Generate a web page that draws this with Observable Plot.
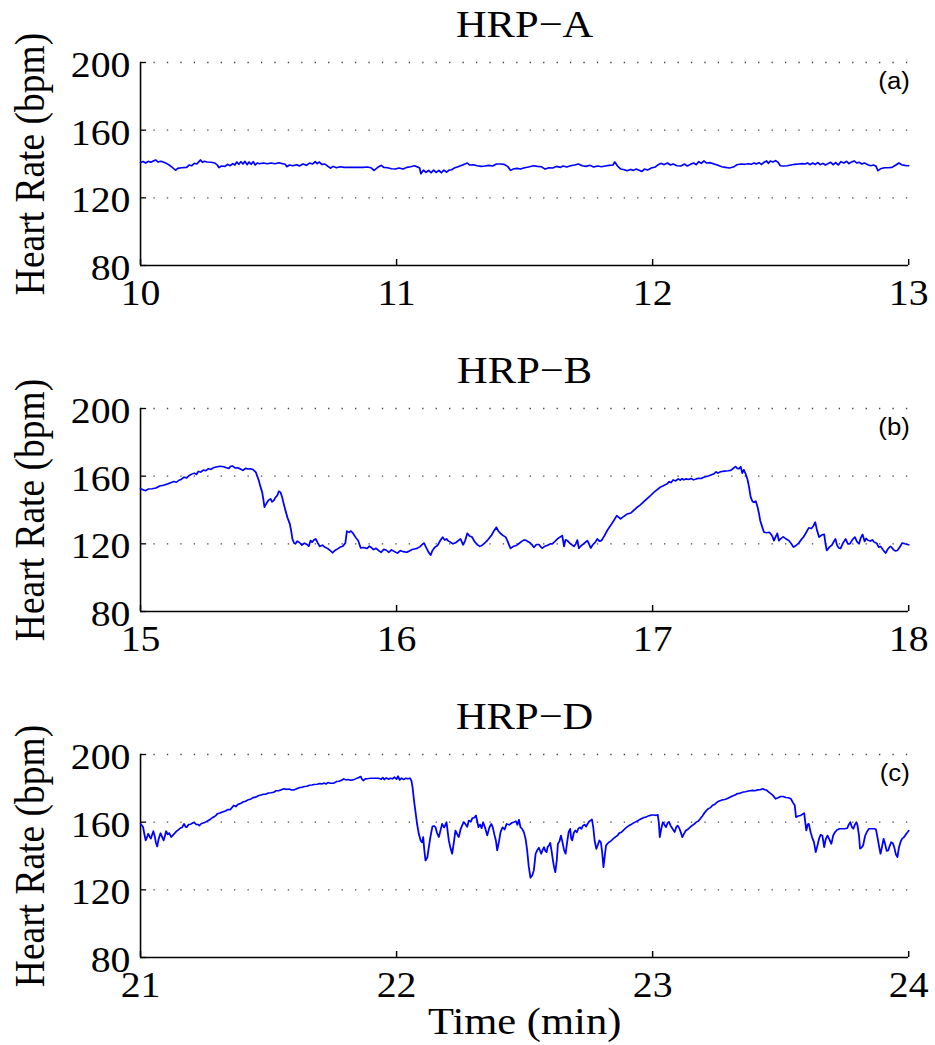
<!DOCTYPE html>
<html><head><meta charset="utf-8">
<script src="https://cdn.jsdelivr.net/npm/d3@7"></script>
<script src="https://cdn.jsdelivr.net/npm/@observablehq/plot@0.6"></script>
<style>body{margin:0;background:#fff;} #chart svg{display:block;}</style>
</head><body><div id="chart"></div>
<script>
// ---- data ----
const yTicks = [80, 120, 160, 200];
const gridY = [120, 160, 200];
const titles = ["HRP−A", "HRP−B", "HRP−D"];
const tags = ["(a)", "(b)", "(c)"];
const yLabel = "Heart Rate (bpm)";
const xLabel = "Time (min)";
const xTicksA = [10, 11, 12, 13];
const xTicksB = [15, 16, 17, 18];
const xTicksC = [21, 22, 23, 24];

const tA = [10.000,10.010,10.020,10.030,10.040,10.050,10.059,10.068,10.080,10.091,10.100,10.110,10.120,10.130,10.137,10.145,10.160,10.180,10.190,10.200,10.210,10.220,10.234,10.242,10.250,10.260,10.275,10.290,10.300,10.306,10.315,10.330,10.340,10.350,10.360,10.368,10.376,10.384,10.392,10.400,10.408,10.416,10.424,10.432,10.440,10.448,10.456,10.465,10.480,10.495,10.510,10.525,10.540,10.555,10.565,10.572,10.582,10.595,10.610,10.620,10.635,10.648,10.660,10.672,10.682,10.690,10.698,10.708,10.720,10.732,10.742,10.752,10.765,10.780,10.795,10.820,10.845,10.870,10.885,10.900,10.912,10.920,10.930,10.940,10.950,10.965,10.980,10.995,11.010,11.025,11.040,11.055,11.070,11.080,11.090,11.095,11.105,11.115,11.125,11.135,11.145,11.155,11.165,11.175,11.185,11.195,11.205,11.215,11.225,11.240,11.255,11.265,11.276,11.285,11.300,11.315,11.330,11.345,11.360,11.375,11.390,11.405,11.420,11.435,11.445,11.455,11.470,11.484,11.500,11.515,11.535,11.550,11.565,11.580,11.595,11.610,11.625,11.640,11.650,11.665,11.680,11.695,11.710,11.725,11.740,11.755,11.770,11.785,11.800,11.815,11.830,11.845,11.852,11.862,11.875,11.890,11.900,11.915,11.925,11.935,11.945,11.958,11.968,11.980,11.995,12.010,12.020,12.032,12.045,12.058,12.070,12.080,12.095,12.110,12.125,12.135,12.148,12.160,12.170,12.180,12.190,12.200,12.210,12.225,12.240,12.255,12.270,12.285,12.300,12.315,12.330,12.345,12.360,12.375,12.385,12.396,12.405,12.415,12.425,12.435,12.445,12.452,12.460,12.470,12.480,12.490,12.498,12.510,12.526,12.540,12.555,12.570,12.585,12.595,12.605,12.615,12.625,12.635,12.645,12.655,12.665,12.675,12.685,12.695,12.705,12.715,12.725,12.735,12.747,12.757,12.767,12.777,12.787,12.797,12.807,12.817,12.827,12.840,12.852,12.862,12.872,12.880,12.890,12.905,12.920,12.935,12.950,12.962,12.972,12.985,12.995,13.000];
const hrA = [140.8,141.5,140.6,141.6,141.0,141.8,142.4,141.2,141.6,141.0,140.4,139.6,138.5,137.2,136.3,137.4,137.8,138.0,139.4,139.0,140.4,140.0,142.4,141.0,141.6,141.2,141.0,140.6,139.4,137.8,138.8,138.6,139.8,139.0,140.2,139.4,141.2,139.8,141.4,140.0,141.6,139.6,141.2,139.8,141.4,139.4,140.6,140.2,140.6,140.2,140.6,140.2,140.8,140.2,139.8,138.4,139.4,139.0,139.6,138.8,140.0,139.2,140.6,140.0,141.4,140.2,141.2,139.8,140.0,138.6,137.6,138.6,137.8,138.4,138.0,138.0,138.0,138.0,138.2,137.8,136.2,137.2,138.4,139.2,138.0,137.8,137.2,137.0,137.6,137.0,138.0,138.4,139.0,138.4,137.6,134.2,136.4,135.0,136.2,134.8,136.4,135.0,136.2,134.8,136.4,135.2,136.4,136.6,137.6,138.4,139.2,139.8,140.6,139.4,139.6,139.0,138.6,138.8,139.2,138.8,140.0,140.0,139.8,138.4,136.2,137.0,137.4,137.0,137.8,138.2,139.0,138.6,138.4,137.0,137.8,137.6,138.6,138.0,138.8,138.2,139.0,139.4,140.0,139.0,138.6,139.2,138.2,138.8,138.4,138.8,139.2,139.4,141.2,139.0,137.0,136.6,136.0,136.8,136.2,137.0,136.4,135.6,137.0,136.4,137.6,138.2,139.4,140.4,139.6,140.6,139.4,140.0,139.0,138.8,140.0,138.8,139.8,140.6,139.6,141.4,140.4,141.8,140.6,140.8,140.0,139.2,138.4,138.0,137.6,138.2,139.6,140.0,139.8,140.2,139.8,140.6,140.0,140.8,139.8,141.0,141.8,140.4,141.8,141.2,142.0,141.0,139.0,138.8,139.0,139.4,139.8,140.0,140.2,140.0,140.6,139.6,140.6,139.8,140.8,139.6,140.4,139.4,140.2,141.0,139.6,140.8,139.4,141.4,140.6,141.6,140.2,141.2,141.8,140.6,141.0,140.0,140.6,139.6,139.0,139.4,138.8,136.0,137.2,137.8,137.8,138.0,139.4,140.6,139.6,139.2,139.0,139.0];

const tB = [15.000,15.010,15.020,15.030,15.045,15.060,15.075,15.090,15.105,15.120,15.130,15.140,15.150,15.160,15.170,15.180,15.190,15.200,15.210,15.218,15.226,15.235,15.245,15.255,15.265,15.275,15.285,15.295,15.310,15.325,15.335,15.345,15.352,15.360,15.370,15.380,15.390,15.400,15.410,15.420,15.430,15.440,15.450,15.456,15.462,15.468,15.475,15.480,15.484,15.492,15.500,15.508,15.514,15.520,15.527,15.534,15.540,15.547,15.553,15.560,15.566,15.574,15.583,15.588,15.593,15.600,15.605,15.612,15.618,15.625,15.630,15.640,15.650,15.657,15.664,15.670,15.678,15.684,15.692,15.700,15.710,15.720,15.730,15.740,15.750,15.760,15.770,15.780,15.790,15.800,15.806,15.815,15.822,15.830,15.840,15.850,15.860,15.870,15.885,15.893,15.900,15.910,15.920,15.930,15.940,15.950,15.960,15.970,15.980,15.992,16.003,16.015,16.025,16.040,16.050,16.060,16.070,16.080,16.092,16.100,16.107,16.115,16.125,16.133,16.140,16.150,16.160,16.170,16.180,16.188,16.195,16.200,16.210,16.220,16.230,16.240,16.250,16.260,16.268,16.276,16.285,16.295,16.305,16.315,16.325,16.333,16.345,16.354,16.362,16.370,16.380,16.390,16.398,16.406,16.415,16.426,16.435,16.445,16.455,16.470,16.480,16.490,16.497,16.504,16.512,16.520,16.528,16.536,16.546,16.556,16.563,16.569,16.580,16.590,16.600,16.608,16.618,16.628,16.638,16.647,16.654,16.660,16.667,16.675,16.685,16.693,16.700,16.706,16.712,16.720,16.730,16.745,16.752,16.758,16.766,16.776,16.784,16.792,16.800,16.812,16.823,16.832,16.840,16.850,16.860,16.868,16.875,16.885,16.900,16.915,16.925,16.940,16.950,16.962,16.973,16.985,16.995,17.005,17.018,17.030,17.040,17.050,17.057,17.065,17.072,17.080,17.090,17.100,17.108,17.115,17.122,17.130,17.140,17.150,17.160,17.170,17.180,17.190,17.200,17.210,17.220,17.230,17.240,17.248,17.255,17.265,17.280,17.295,17.305,17.315,17.324,17.330,17.337,17.344,17.350,17.356,17.363,17.370,17.376,17.383,17.390,17.396,17.403,17.410,17.416,17.420,17.428,17.435,17.445,17.455,17.460,17.467,17.474,17.480,17.487,17.493,17.500,17.510,17.520,17.532,17.540,17.550,17.560,17.571,17.580,17.590,17.600,17.610,17.620,17.628,17.635,17.642,17.650,17.660,17.670,17.675,17.680,17.690,17.700,17.708,17.714,17.720,17.727,17.734,17.744,17.754,17.762,17.770,17.780,17.790,17.798,17.806,17.813,17.820,17.828,17.834,17.840,17.850,17.858,17.865,17.875,17.883,17.890,17.900,17.910,17.918,17.925,17.930,17.940,17.948,17.956,17.965,17.975,17.985,17.995,18.000];
const hrB = [152.5,152.0,151.4,152.4,152.6,153.0,154.2,154.6,155.4,156.2,156.8,156.4,157.6,158.2,159.4,159.0,160.4,161.2,161.8,161.0,162.8,162.4,163.6,163.2,164.4,164.0,165.0,165.4,165.9,165.6,165.0,164.6,165.8,166.0,164.8,165.0,164.2,163.4,164.6,164.2,164.4,163.8,162.4,160.0,157.4,154.0,150.5,146.0,141.7,144.0,145.8,146.6,144.8,145.6,147.4,148.6,151.1,150.4,147.6,143.2,139.7,135.4,131.8,128.0,123.0,120.4,120.0,121.6,121.0,120.2,119.2,120.4,119.6,118.6,121.9,121.0,122.4,122.9,120.6,118.5,119.2,118.0,117.3,116.2,114.7,116.2,117.0,118.1,118.6,120.5,127.5,126.8,127.6,126.2,123.8,121.9,117.5,117.8,117.3,118.6,118.0,116.6,117.4,116.0,115.0,116.8,116.2,115.0,116.4,115.4,114.5,116.0,115.4,115.0,115.8,116.6,117.0,117.3,118.4,119.6,120.5,118.0,115.0,113.3,116.0,118.1,119.0,121.8,124.0,122.2,123.0,121.9,121.0,120.0,120.6,121.8,122.9,119.4,122.0,126.2,124.6,124.0,121.2,119.6,118.5,119.0,120.6,121.9,123.4,124.9,127.6,129.8,127.4,126.2,125.0,124.0,121.0,117.3,118.4,119.2,120.4,121.6,122.2,122.2,121.4,120.8,119.6,117.9,119.6,119.6,118.2,117.5,118.6,119.2,120.0,120.0,121.4,122.9,124.0,124.9,118.5,122.4,121.9,120.6,119.4,118.5,120.0,122.2,117.3,118.8,120.0,121.9,119.8,117.5,119.4,121.0,122.9,121.6,121.9,124.8,127.9,130.0,131.8,134.2,136.7,135.6,134.8,136.0,137.6,138.2,139.6,141.7,142.8,144.4,146.0,147.6,149.0,150.5,152.0,153.5,154.2,155.0,155.5,156.8,156.2,157.8,157.2,158.4,157.6,158.6,157.8,158.4,158.0,158.6,157.8,158.4,158.8,158.6,159.4,159.8,160.2,160.8,161.4,162.6,161.8,162.6,163.0,163.2,163.4,164.6,165.7,164.6,164.4,165.6,161.8,163.8,161.4,158.4,154.0,147.6,145.0,144.6,145.2,141.7,137.4,133.8,130.0,126.9,126.6,126.8,126.2,124.6,121.9,124.0,126.2,121.9,123.0,124.2,123.0,121.9,120.4,118.1,119.0,120.5,122.4,124.2,126.8,129.5,129.0,130.6,132.8,128.0,124.0,125.2,125.6,120.2,116.1,118.0,119.2,121.4,122.9,119.2,117.6,117.3,120.6,122.9,120.0,120.0,122.4,124.0,121.2,120.0,123.6,125.6,121.4,123.2,122.2,121.6,122.4,121.0,120.4,118.0,118.5,116.4,114.5,116.8,118.0,118.5,116.6,115.8,116.1,118.0,120.5,120.0,119.6,119.4];

const tC = [21.000,21.005,21.010,21.015,21.020,21.025,21.030,21.035,21.040,21.045,21.050,21.055,21.060,21.065,21.070,21.078,21.084,21.090,21.095,21.100,21.106,21.112,21.120,21.128,21.137,21.145,21.155,21.163,21.170,21.176,21.180,21.188,21.196,21.204,21.210,21.218,21.225,21.230,21.238,21.248,21.260,21.270,21.280,21.288,21.296,21.300,21.310,21.320,21.332,21.340,21.350,21.358,21.364,21.372,21.380,21.390,21.400,21.410,21.420,21.430,21.440,21.450,21.460,21.470,21.480,21.490,21.500,21.510,21.520,21.530,21.540,21.550,21.560,21.570,21.580,21.590,21.600,21.610,21.620,21.630,21.640,21.650,21.660,21.670,21.677,21.690,21.700,21.710,21.716,21.725,21.732,21.742,21.755,21.765,21.775,21.785,21.794,21.802,21.810,21.820,21.830,21.840,21.850,21.860,21.865,21.870,21.878,21.890,21.900,21.910,21.920,21.930,21.940,21.946,21.952,21.960,21.968,21.976,21.984,21.992,22.000,22.006,22.012,22.020,22.028,22.036,22.044,22.052,22.058,22.063,22.068,22.074,22.080,22.087,22.094,22.100,22.104,22.108,22.113,22.120,22.126,22.133,22.140,22.146,22.152,22.158,22.165,22.172,22.178,22.186,22.195,22.200,22.204,22.210,22.217,22.224,22.230,22.237,22.243,22.250,22.257,22.263,22.270,22.276,22.282,22.290,22.296,22.303,22.310,22.315,22.320,22.326,22.332,22.338,22.345,22.354,22.362,22.370,22.376,22.382,22.388,22.393,22.400,22.406,22.414,22.422,22.430,22.440,22.450,22.458,22.466,22.472,22.478,22.484,22.490,22.497,22.504,22.510,22.516,22.523,22.530,22.536,22.543,22.550,22.556,22.561,22.565,22.571,22.576,22.581,22.586,22.590,22.595,22.600,22.605,22.610,22.615,22.620,22.626,22.630,22.636,22.642,22.648,22.654,22.660,22.666,22.672,22.678,22.682,22.686,22.692,22.698,22.704,22.710,22.716,22.722,22.728,22.734,22.740,22.746,22.752,22.758,22.763,22.768,22.774,22.780,22.786,22.792,22.798,22.803,22.808,22.813,22.818,22.824,22.830,22.838,22.846,22.854,22.862,22.870,22.878,22.886,22.894,22.902,22.910,22.918,22.926,22.934,22.942,22.950,22.958,22.966,22.974,22.982,22.990,22.998,23.006,23.014,23.020,23.024,23.028,23.034,23.040,23.046,23.052,23.058,23.064,23.070,23.078,23.086,23.092,23.098,23.104,23.110,23.116,23.122,23.130,23.138,23.146,23.154,23.162,23.170,23.178,23.186,23.194,23.202,23.210,23.218,23.226,23.234,23.242,23.250,23.258,23.266,23.274,23.282,23.290,23.298,23.306,23.314,23.322,23.330,23.338,23.346,23.354,23.362,23.370,23.380,23.390,23.400,23.410,23.420,23.430,23.438,23.446,23.454,23.462,23.470,23.480,23.490,23.500,23.510,23.520,23.530,23.540,23.548,23.555,23.560,23.568,23.578,23.586,23.592,23.596,23.600,23.606,23.610,23.617,23.623,23.630,23.637,23.644,23.650,23.656,23.663,23.670,23.676,23.683,23.690,23.698,23.705,23.712,23.720,23.730,23.740,23.750,23.760,23.766,23.772,23.778,23.784,23.790,23.796,23.800,23.806,23.810,23.816,23.822,23.830,23.838,23.845,23.855,23.865,23.872,23.878,23.884,23.890,23.896,23.902,23.908,23.914,23.920,23.926,23.932,23.938,23.944,23.950,23.956,23.962,23.968,23.974,23.982,23.990,23.996,24.000];
const hrC = [159.0,158.2,157.0,153.0,149.2,151.0,153.2,151.6,150.2,152.4,154.7,152.0,148.0,145.6,149.6,153.5,151.4,149.2,151.8,154.7,152.8,153.6,151.2,152.6,154.1,155.2,156.4,157.0,159.0,157.2,157.0,158.6,158.8,159.6,159.8,158.6,158.6,158.0,159.2,159.6,160.6,161.4,162.6,163.2,164.2,165.0,165.4,166.0,166.6,167.4,167.4,168.8,169.9,169.2,170.4,171.0,171.9,172.4,173.2,173.6,174.5,174.8,175.6,176.0,176.5,176.6,177.2,177.4,177.7,178.6,178.6,179.2,179.7,179.4,179.6,179.0,179.1,179.8,180.4,180.6,181.1,181.2,181.8,182.0,182.3,182.4,182.8,182.6,183.1,182.6,183.4,183.0,183.1,184.0,184.2,184.8,185.6,185.0,185.2,184.8,185.0,185.6,186.2,187.0,185.4,184.6,185.6,185.8,186.0,186.0,186.0,186.0,185.4,186.4,185.2,186.2,185.4,186.0,185.6,186.6,185.4,187.2,185.0,186.0,185.2,186.0,185.6,186.0,184.6,180.0,172.8,166.0,159.0,153.0,149.2,148.0,151.2,144.0,137.3,139.0,145.2,152.0,157.4,157.8,157.0,153.6,151.2,155.4,159.0,156.8,160.0,154.0,149.2,145.0,141.3,148.4,155.1,152.8,151.2,155.8,158.4,160.0,158.6,157.2,161.0,160.2,162.4,162.6,164.0,160.4,157.0,158.6,156.4,160.0,157.0,152.2,156.6,159.0,156.8,152.6,149.0,143.3,148.6,154.1,157.0,155.6,159.0,158.4,159.6,160.0,160.6,158.4,161.4,157.0,156.1,154.1,150.0,143.3,134.0,127.1,128.6,131.5,141.3,143.6,144.9,142.8,141.3,143.8,145.2,143.0,142.3,145.4,146.2,147.8,143.3,138.0,133.4,130.4,138.0,147.2,148.6,152.1,148.0,143.6,141.3,148.0,154.1,156.1,150.4,149.2,153.6,155.1,154.0,156.2,157.0,156.0,158.0,158.6,157.4,159.0,160.4,161.0,161.6,157.0,148.6,144.2,146.6,149.2,148.0,142.0,133.4,140.0,146.2,147.4,148.2,149.0,150.2,151.2,152.0,153.6,154.0,155.2,156.4,157.4,158.2,158.8,159.6,160.2,160.8,161.6,162.2,162.8,163.0,163.6,164.0,164.2,164.2,164.0,164.4,160.0,151.1,156.4,160.0,158.6,157.0,159.4,160.2,158.0,156.0,154.1,157.0,158.0,156.4,154.0,151.1,153.0,155.1,155.8,157.0,158.0,158.8,160.0,160.6,162.0,163.6,165.4,166.9,168.0,168.6,170.0,170.4,171.6,172.4,172.8,173.2,173.4,173.8,174.4,175.0,175.6,176.0,176.8,177.0,177.4,177.8,178.0,178.3,178.6,178.8,178.6,179.1,179.2,179.7,179.2,178.8,177.7,176.8,175.8,173.8,174.4,175.2,175.2,174.6,174.4,173.8,171.6,169.9,162.9,163.6,164.0,164.8,165.3,160.0,155.1,158.8,159.0,154.1,151.0,148.2,142.3,146.4,150.2,152.6,152.0,145.2,150.0,152.1,149.8,147.2,152.0,154.1,155.4,156.1,156.1,156.1,156.4,158.6,160.0,157.2,156.1,158.6,160.0,158.2,152.0,144.3,145.0,146.2,152.0,154.6,156.1,156.1,156.1,155.8,151.1,146.0,141.3,145.6,150.2,147.0,143.0,143.3,146.0,148.2,147.6,145.0,141.0,139.3,145.0,148.2,150.2,151.2,153.0,154.1,155.0];

// ---- layout ----
const W = 935;
const LW = 835;            // logical width, stretched horizontally to W like the original raster
const ML = 125, MR = 24, MT = 62, FH = 203;
const serif = "'Liberation Serif','Times New Roman',Times,serif";

function panel(t, v, xTicks, title, tag, height, withXLabel) {
  const data = t.map((d, i) => ({t: d, hr: v[i]}));
  const fw = LW - ML - MR;
  const marks = [
    Plot.ruleY(gridY, {stroke: "#444", strokeWidth: 1.3, strokeDasharray: "1.2,10.8"}),
    Plot.ruleX([xTicks[0]], {stroke: "#000", strokeWidth: 1.4}),
    Plot.ruleY([yTicks[0]], {stroke: "#000", strokeWidth: 1.4}),
    Plot.tickY(yTicks, {y: d => d, insetRight: fw - 5.5, stroke: "#000", strokeWidth: 1.3}),
    Plot.tickX(xTicks, {x: d => d, insetTop: FH - 6, stroke: "#000", strokeWidth: 1.3}),
    Plot.line(data, {x: "t", y: "hr", stroke: "#0000ff", strokeWidth: 1.6}),
    Plot.axisX({ticks: xTicks, tickSize: 0, tickPadding: 14, label: null, fontSize: 35.5, tickFormat: d => String(d)}),
    Plot.axisY({ticks: yTicks, tickSize: 0, tickPadding: 9, label: null, fontSize: 35.5, dy: 3, tickFormat: d => String(d)}),
    Plot.text([title], {text: d => d, frameAnchor: "top", dy: -38, fontSize: 38, textAnchor: "middle", lineAnchor: "middle"}),
    Plot.text([yLabel], {text: d => d, frameAnchor: "left", dx: -98, rotate: -90, fontSize: 37.5, textAnchor: "middle", lineAnchor: "middle"}),
    Plot.text([tag], {text: d => d, frameAnchor: "top-right", dx: 1, dy: 19, textAnchor: "end", lineAnchor: "middle", fontFamily: "'Liberation Sans',Arial,sans-serif", fontSize: 23})
  ];
  if (withXLabel) marks.push(Plot.text([xLabel], {text: d => d, frameAnchor: "bottom", dy: 64, fontSize: 38, textAnchor: "middle", lineAnchor: "middle"}));
  const svg = Plot.plot({
    width: LW, height,
    marginTop: MT, marginBottom: height - MT - FH, marginLeft: ML, marginRight: MR,
    style: {fontFamily: serif, fontSize: "35px", color: "#000", background: "#fff", overflow: "visible"},
    x: {domain: [xTicks[0], xTicks[xTicks.length - 1]]},
    y: {domain: [yTicks[0], yTicks[yTicks.length - 1]]},
    marks
  });
  svg.setAttribute("preserveAspectRatio", "none");
  svg.setAttribute("width", W);
  svg.style.width = W + "px";
  svg.style.height = height + "px";
  svg.style.maxWidth = "none";
  return svg;
}

const root = document.getElementById("chart");
root.appendChild(panel(tA, hrA, xTicksA, titles[0], tags[0], 346, false));
root.appendChild(panel(tB, hrB, xTicksB, titles[1], tags[1], 346, false));
root.appendChild(panel(tC, hrC, xTicksC, titles[2], tags[2], 353, true));
</script>
</body></html>
